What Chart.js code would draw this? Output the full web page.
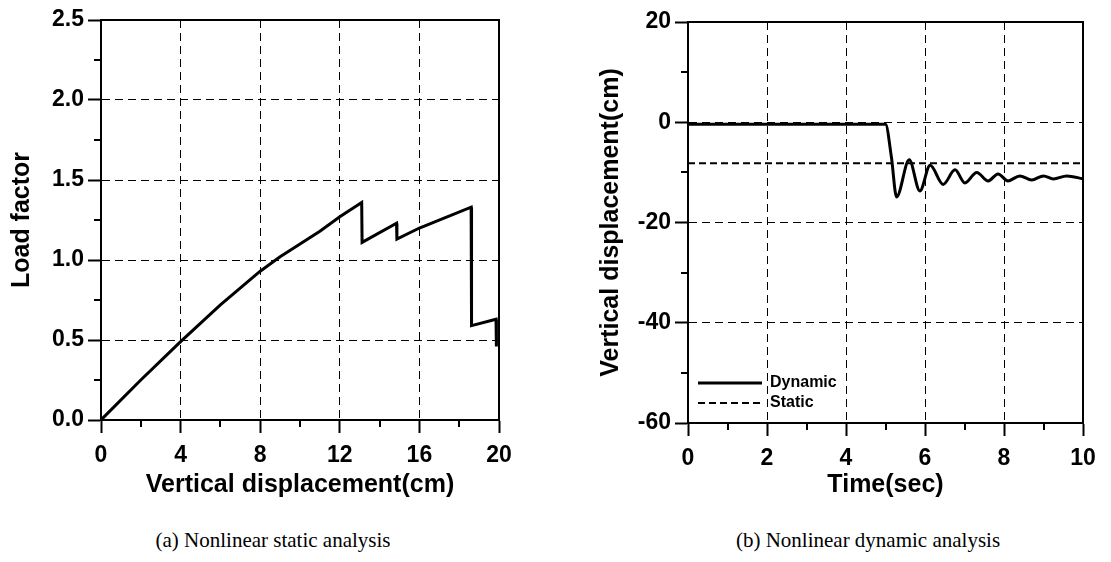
<!DOCTYPE html>
<html><head><meta charset="utf-8">
<script src="https://cdn.jsdelivr.net/npm/chart.js@4.4.0/dist/chart.umd.min.js"></script>
<style>
html,body{margin:0;padding:0;background:#fff;}
body{width:1111px;height:562px;position:relative;overflow:hidden;}
canvas{position:absolute;top:0;}
.cap{position:absolute;font-family:"Liberation Serif","Times New Roman",serif;font-size:21px;color:#000;white-space:nowrap;transform:translateX(-50%);line-height:1;}
</style></head><body>
<canvas id="c1" width="545" height="510" style="left:0px"></canvas>
<canvas id="c2" width="551" height="510" style="left:560px"></canvas>
<div class="cap" style="left:273px;top:530px">(a) Nonlinear static analysis</div>
<div class="cap" style="left:868px;top:530px">(b) Nonlinear dynamic analysis</div>
<script>
// ---- data (a) nonlinear static analysis ----
const staticDisp = [0, 2, 4, 6, 8, 9, 10, 11, 12, 13.1, 13.12, 14.85, 14.87, 16, 18.6, 18.62, 19.85, 19.87];
const staticLoad = [0, 0.25, 0.49, 0.72, 0.93, 1.02, 1.10, 1.18, 1.27, 1.36, 1.11, 1.23, 1.13, 1.20, 1.33, 0.59, 0.63, 0.46];
const staticXTicks = [0, 4, 8, 12, 16, 20];
const staticYTicks = [0, 0.5, 1.0, 1.5, 2.0, 2.5];

// ---- data (b) nonlinear dynamic analysis ----
const dynTime = [0, 5.0, 5.15, 5.28, 5.6, 5.87, 6.13, 6.46, 6.76, 7.01, 7.31, 7.6, 7.85, 8.1, 8.4, 8.7, 9.0, 9.25, 9.59, 10.0];
const dynDisp = [-0.4, -0.4, -7.0, -14.9, -7.5, -13.7, -8.6, -12.4, -9.5, -12.1, -10.0, -11.7, -10.3, -11.7, -10.7, -11.5, -10.7, -11.3, -10.7, -11.3];
const staticLevelTime = [0, 10];
const staticLevelDisp = [-8.2, -8.2];
const dynXTicks = [0, 2, 4, 6, 8, 10];
const dynYTicks = [-60, -40, -20, 0, 20];
const seriesLabels = ['Dynamic', 'Static'];

const FONT = '"Liberation Sans", Arial, sans-serif';
const tickFont = {family: FONT, size: 23, weight: 'bold'};
const titleFont = {family: FONT, size: 25, weight: 'bold'};

const minorTicks = {
  id: 'minorTicks',
  afterDraw(chart) {
    const ctx = chart.ctx;
    ctx.save();
    ctx.strokeStyle = '#000';
    ctx.lineWidth = 2;
    ['x', 'y'].forEach(id => {
      const s = chart.scales[id];
      const t = s.ticks;
      for (let i = 0; i < t.length - 1; i++) {
        const mid = (t[i].value + t[i + 1].value) / 2;
        const p = Math.round(s.getPixelForValue(mid));
        ctx.beginPath();
        if (id === 'x') { ctx.moveTo(p, s.top); ctx.lineTo(p, s.top + 7); }
        else { ctx.moveTo(s.right, p); ctx.lineTo(s.right - 7, p); }
        ctx.stroke();
      }
    });
    ctx.restore();
  }
};

const insideLegend = {
  id: 'insideLegend',
  afterDraw(chart) {
    const {ctx, chartArea: a} = chart;
    chart.data.datasets.forEach((ds, i) => {
      const y = a.bottom - 40 + i * 20;
      ctx.save();
      ctx.strokeStyle = '#000';
      ctx.lineWidth = ds.borderWidth;
      ctx.setLineDash(ds.borderDash || []);
      ctx.beginPath(); ctx.moveTo(a.left + 10, y); ctx.lineTo(a.left + 74, y); ctx.stroke();
      ctx.setLineDash([]);
      ctx.fillStyle = '#000';
      ctx.font = 'bold 16px ' + FONT;
      ctx.textBaseline = 'middle';
      ctx.fillText(ds.label, a.left + 82, y);
      ctx.restore();
    });
  }
};

function mainAxis(ticksArr, fmt, title, fitProp, fitVal, titlePad, tickPad) {
  return {
    type: 'linear',
    min: ticksArr[0], max: ticksArr[ticksArr.length - 1],
    afterBuildTicks: s => { s.ticks = ticksArr.map(v => ({value: v})); },
    afterFit: s => { s[fitProp] = fitVal; },
    grid: {color: '#000', lineWidth: 1, tickLength: 13, tickWidth: 2, tickColor: '#000', tickBorderDash: []},
    border: {display: true, color: '#000', width: 2, dash: [8, 5]},
    ticks: {color: '#000', font: tickFont, padding: tickPad, autoSkip: false, maxRotation: 0, callback: fmt},
    title: {display: true, text: title, color: '#000', font: titleFont, padding: titlePad}
  };
}
function frameAxis(pos, ticksArr, fitProp) {
  return {
    type: 'linear', position: pos,
    min: ticksArr[0], max: ticksArr[ticksArr.length - 1],
    grid: {drawOnChartArea: false, drawTicks: false},
    ticks: {display: false},
    border: {display: true, color: '#000', width: 2},
    afterFit: s => { s[fitProp] = 0; }
  };
}

new Chart(document.getElementById('c1'), {
  type: 'line',
  data: {datasets: [{
    label: 'Load factor',
    data: staticDisp.map((x, i) => ({x: x, y: staticLoad[i]})),
    borderColor: '#000', borderWidth: 3, pointRadius: 0, tension: 0, fill: false,
    xAxisID: 'x', yAxisID: 'y'
  }]},
  options: {
    responsive: false, animation: false, devicePixelRatio: 1,
    layout: {padding: {left: 0, top: 20, right: 46, bottom: 0}},
    plugins: {legend: {display: false}, tooltip: {enabled: false}},
    scales: {
      x: Object.assign(mainAxis(staticXTicks, v => String(v), 'Vertical displacement(cm)', 'height', 90, {top: 0, bottom: 10}, 9), {position: 'bottom'}),
      y: Object.assign(mainAxis(staticYTicks, v => Number(v).toFixed(1), 'Load factor', 'width', 101, {top: 7, bottom: 0}, 4), {position: 'left'}),
      xTop: Object.assign(frameAxis('top', staticXTicks, 'height'), {axis: 'x'}),
      yRight: Object.assign(frameAxis('right', staticYTicks, 'width'), {axis: 'y'})
    }
  },
  plugins: [minorTicks]
});

new Chart(document.getElementById('c2'), {
  type: 'line',
  data: {datasets: [
    {label: seriesLabels[0], data: dynTime.map((x, i) => ({x: x, y: dynDisp[i]})),
     borderColor: '#000', borderWidth: 3, pointRadius: 0, cubicInterpolationMode: 'monotone', fill: false,
     xAxisID: 'x', yAxisID: 'y'},
    {label: seriesLabels[1], data: staticLevelTime.map((x, i) => ({x: x, y: staticLevelDisp[i]})),
     borderColor: '#000', borderWidth: 2, borderDash: [7, 4], pointRadius: 0, tension: 0, fill: false,
     xAxisID: 'x', yAxisID: 'y'}
  ]},
  options: {
    responsive: false, animation: false, devicePixelRatio: 1,
    layout: {padding: {left: 0, top: 22, right: 28, bottom: 0}},
    plugins: {legend: {display: false}, tooltip: {enabled: false}},
    scales: {
      x: Object.assign(mainAxis(dynXTicks, v => String(v), 'Time(sec)', 'height', 87, {top: 0, bottom: 10}, 9), {position: 'bottom'}),
      y: Object.assign(mainAxis(dynYTicks, v => String(v), 'Vertical displacement(cm)', 'width', 128, {top: 36, bottom: 0}, 4), {position: 'left'}),
      xTop: Object.assign(frameAxis('top', dynXTicks, 'height'), {axis: 'x'}),
      yRight: Object.assign(frameAxis('right', dynYTicks, 'width'), {axis: 'y'})
    }
  },
  plugins: [minorTicks, insideLegend]
});
</script>
</body></html>
